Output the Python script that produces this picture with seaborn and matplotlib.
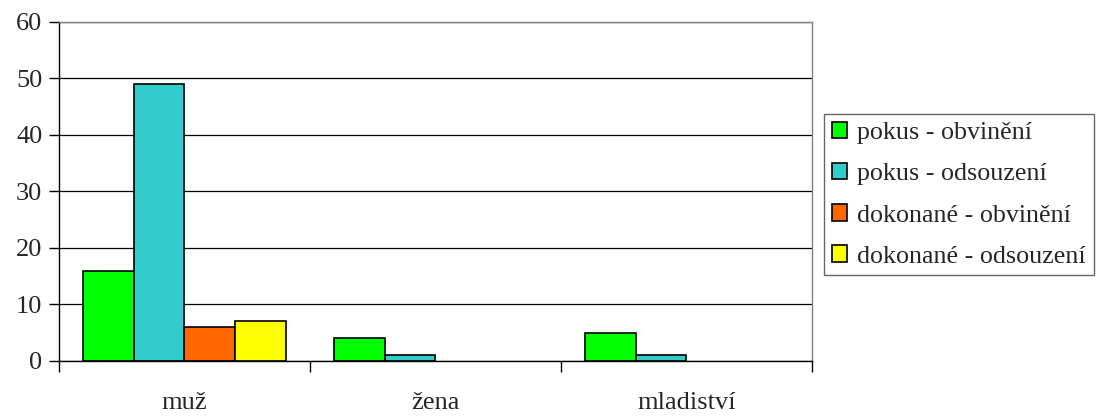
import pandas as pd
import matplotlib
matplotlib.use("Agg")
import matplotlib.pyplot as plt
import seaborn as sns
from matplotlib.ticker import FixedLocator

# data
categories = ["muž", "žena", "mladiství"]
series = ["pokus - obvinění", "pokus - odsouzení", "dokonané - obvinění", "dokonané - odsouzení"]
pokus_obvineni = [16, 4, 5]
pokus_odsouzeni = [49, 1, 1]
dokonane_obvineni = [6, 0, 0]
dokonane_odsouzeni = [7, 0, 0]
colors = ["#00FF00", "#33CCCC", "#FF6600", "#FFFF00"]

values = [pokus_obvineni, pokus_odsouzeni, dokonane_obvineni, dokonane_odsouzeni]
rows = []
for s, vals in zip(series, values):
    for c, v in zip(categories, vals):
        rows.append({"kategorie": c, "série": s, "počet": v})
df = pd.DataFrame(rows)

sns.set_style("white")
plt.rcParams["font.family"] = ["Liberation Serif", "DejaVu Serif"]

fig = plt.figure(figsize=(10.98, 4.18), dpi=100)
ax = fig.add_axes([0.0537, 0.1364, 0.6858, 0.811])

sns.barplot(data=df, x="kategorie", y="počet", hue="série", order=categories,
            hue_order=series, palette=colors, width=0.81, gap=0,
            edgecolor="black", linewidth=1.2, saturation=1, ax=ax, legend=True)

# zero bars sit on the axis, hide their outlines
for cont in ax.containers:
    for bar in cont:
        if bar.get_height() == 0:
            bar.set_visible(False)

ax.set_ylim(0, 60)
ax.set_xlim(-0.5, 2.5)
ax.set_yticks(range(0, 61, 10))
ax.yaxis.grid(True, color="black", linewidth=0.9)
ax.set_axisbelow(True)
ax.set_xlabel("")
ax.set_ylabel("")

for side in ["top", "right"]:
    ax.spines[side].set_color("#808080")
    ax.spines[side].set_linewidth(1)
for side in ["left", "bottom"]:
    ax.spines[side].set_color("black")
    ax.spines[side].set_linewidth(1)

ax.tick_params(axis="y", which="major", direction="out", length=7, width=1,
               color="black", labelsize=19, pad=5, left=True)
ax.tick_params(axis="x", which="major", length=0, labelsize=19, pad=22)
ax.xaxis.set_minor_locator(FixedLocator([-0.5, 0.5, 1.5, 2.5]))
ax.tick_params(axis="x", which="minor", direction="out", length=8, width=1,
               color="black", bottom=True)

handles, labels = ax.get_legend_handles_labels()
ax.legend_.remove()
leg = fig.legend(handles, labels, loc="upper left",
                 bbox_to_anchor=(0.7505, 0.727), frameon=True, fancybox=False,
                 edgecolor="#404040", fontsize=18.7, handlelength=0.6,
                 handleheight=0.6, handletextpad=0.38, labelspacing=0.72,
                 borderpad=0.3, borderaxespad=0)
leg.get_frame().set_linewidth(1)
for h in leg.legend_handles:
    h.set_edgecolor("black")
    h.set_linewidth(1.2)

fig.savefig("out.png", dpi=100)
